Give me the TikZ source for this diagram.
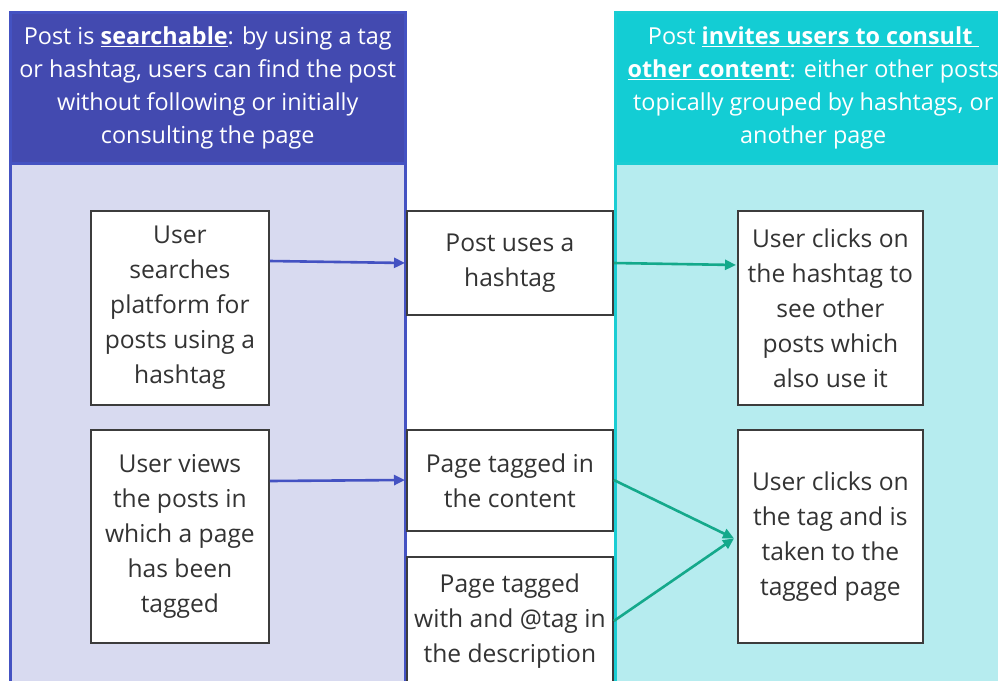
\documentclass[tikz,border=0pt]{standalone}
\usepackage{fontspec}
\setmainfont{Open Sans}
\usetikzlibrary{arrows.meta,calc}

\definecolor{indigohead}{HTML}{434AB0}
\definecolor{indigoline}{HTML}{4452C2}
\definecolor{indigobody}{HTML}{D8DAF0}
\definecolor{tealhead}{HTML}{13CDD4}
\definecolor{tealline}{HTML}{1ACDD3}
\definecolor{tealbody}{HTML}{B6ECEF}
\definecolor{boxink}{HTML}{333333}
\definecolor{boxline}{HTML}{3C3C3C}
\definecolor{greenarrow}{HTML}{14A98B}

\begin{document}
\begin{tikzpicture}[x=1pt,y=-1pt,
  panelbody/.style={anchor=north west, inner sep=0pt, line width=2.5pt, minimum width=395pt, minimum height=530pt},
  panelhead/.style={anchor=north west, inner sep=0pt, line width=2.5pt, minimum width=395pt, minimum height=151pt,
    text=white, align=center, font=\fontsize{23.4}{33}\selectfont},
  stepbox/.style={anchor=north west, draw=boxline, fill=white, line width=1.8pt, inner sep=0pt,
    text=boxink, align=center, font=\fontsize{24.6}{35}\selectfont},
  bluearrow/.style={draw=indigoline, line width=2.6pt, -{Triangle[length=11pt,width=10pt]}},
  greenlink/.style={draw=greenarrow, line width=2.6pt, -{Triangle[length=11pt,width=10pt]}}
]
\useasboundingbox (0,0) rectangle (998,680);

% left column: searchable
\node[panelbody, fill=indigobody, draw=indigoline] (lbody) at (9,162) {};
\node[panelhead, fill=indigohead, draw=indigoline] (lhead) at (9,11)
  {Post is \underline{\textbf{searchable}}: by using a tag\\
   or hashtag, users can find the post\\
   without following or initially\\
   consulting the page};

% right column: invites to consult other content
\node[panelbody, fill=tealbody, draw=tealline, minimum width=396pt] (rbody) at (614,162) {};
\node[panelhead, fill=tealhead, draw=tealline, minimum width=396pt] (rhead) at (614,11)
  {Post \underline{\textbf{invites users to consult\ }}\\
   \underline{\textbf{other content}}: either other posts\\
   topically grouped by hashtags, or\\
   another page};

% user actions (left)
\node[stepbox, minimum width=178pt, minimum height=194pt] (u1) at (90,210)
  {User\\ searches\\ platform for\\ posts using a\\ hashtag};
\node[stepbox, minimum width=178pt, minimum height=213pt] (u2) at (90,429)
  {User views\\ the posts in\\ which a page\\ has been\\ tagged};

% post features (middle)
\node[stepbox, minimum width=206pt, minimum height=104pt] (m1) at (406,210)
  {Post uses a\\ hashtag};
\node[stepbox, minimum width=206pt, minimum height=101pt] (m2) at (406,429)
  {Page tagged in\\ the content};
\node[stepbox, minimum width=206pt, minimum height=128pt] (m3) at (406,556)
  {Page tagged\\ with and @tag in\\ the description};

% user actions (right)
\node[stepbox, minimum width=185pt, minimum height=194pt] (r1) at (737,210)
  {User clicks on\\ the hashtag to\\ see other\\ posts which\\ also use it};
\node[stepbox, minimum width=185pt, minimum height=213pt] (r2) at (737,429)
  {User clicks on\\ the tag and is\\ taken to the\\ tagged page};

% connectors
\draw[bluearrow] ([yshift=-51pt]u1.north east) -- ([yshift=-53pt,xshift=-1pt]m1.north west);
\draw[bluearrow] ([yshift=-52pt]u2.north east) -- ([yshift=-51pt,xshift=-1pt]m2.north west);
\draw[greenlink] ([yshift=-53pt]m1.north east) -- ([yshift=-55pt,xshift=-1pt]r1.north west);
\draw[greenlink] ([yshift=-51pt]m2.north east) -- ([xshift=-3pt,yshift=-2pt]r2.west);
\draw[greenlink] ([yshift=-65pt]m3.north east) -- ([xshift=-3pt,yshift=-2pt]r2.west);
\end{tikzpicture}
\end{document}
